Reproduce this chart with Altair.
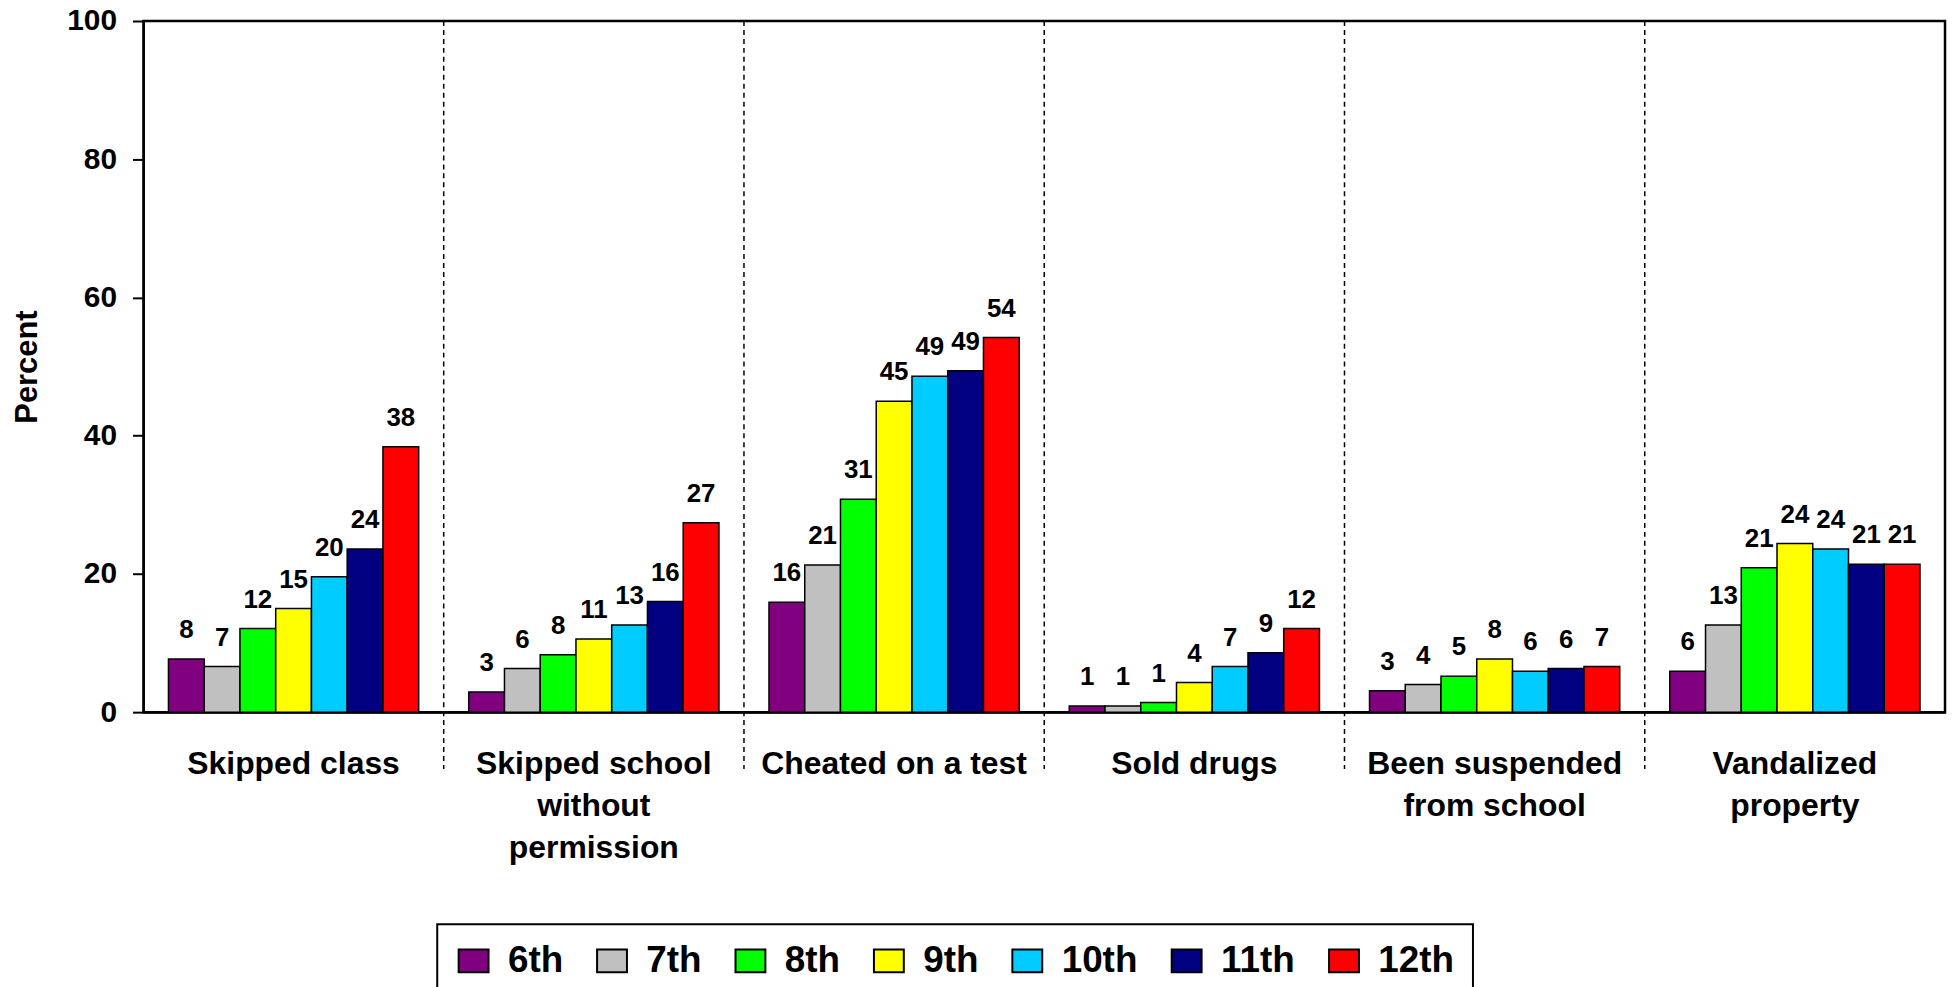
import altair as alt
import pandas as pd

# Categories (use "|" as the line-break marker for axis labels)
categories = [
    "Skipped class",
    "Skipped school|without|permission",
    "Cheated on a test",
    "Sold drugs",
    "Been suspended|from school",
    "Vandalized|property",
]
grades = ["6th", "7th", "8th", "9th", "10th", "11th", "12th"]
colors = ["#800080", "#C0C0C0", "#00FF00", "#FFFF00", "#00CCFF", "#000080", "#FF0000"]

# Percent values per grade, in category order
g6 = [7.7, 2.9, 15.9, 0.9, 3.1, 5.9]
g7 = [6.6, 6.3, 21.3, 0.9, 4.0, 12.6]
g8 = [12.1, 8.3, 30.8, 1.4, 5.2, 20.9]
g9 = [15.0, 10.6, 45.0, 4.3, 7.7, 24.4]
g10 = [19.6, 12.6, 48.6, 6.6, 5.9, 23.6]
g11 = [23.6, 16.0, 49.4, 8.6, 6.3, 21.4]
g12 = [38.4, 27.4, 54.2, 12.1, 6.6, 21.4]
series = [g6, g7, g8, g9, g10, g11, g12]

y_ticks = [0, 20, 40, 60, 80, 100]

rows = []
for g, vals in zip(grades, series):
    for c, v in zip(categories, vals):
        rows.append({"cat": c, "grade": g, "value": v})
df = pd.DataFrame(rows)
sep_df = pd.DataFrame({"cat": categories[1:]})

FONT = "Liberation Sans"

x_enc = alt.X(
    "cat:N",
    sort=categories,
    scale=alt.Scale(paddingInner=0, paddingOuter=0),
    axis=alt.Axis(
        title=None,
        ticks=False,
        tickSize=0,
        labelPadding=37,
        labelFontSize=32,
        labelFontWeight="bold",
        labelLineHeight=42,
        labelExpr="split(datum.label, '|')",
        labelAngle=0,
        labelColor="black",
        labelLimit=500,
        labelOverlap=False,
        domainColor="black",
        domainWidth=2,
        grid=False,
    ),
)
xoff_enc = alt.XOffset("grade:N", sort=grades, scale=alt.Scale(paddingInner=0, paddingOuter=0.7))
y_enc = alt.Y(
    "value:Q",
    scale=alt.Scale(domain=[0, 100], nice=False),
    axis=alt.Axis(
        values=y_ticks,
        title="Percent",
        grid=False,
        labelFontSize=30,
        labelFontWeight="bold",
        labelColor="black",
        labelPadding=16,
        tickSize=11,
        tickWidth=2,
        tickColor="black",
        domainColor="black",
        domainWidth=2,
        titleFontSize=31,
        titleFontWeight="bold",
        titleColor="black",
        titleAngle=270,
        titleX=-107,
        titleY=347,
        titleAlign="center",
        titleBaseline="alphabetic",
    ),
)

bars = alt.Chart(df).mark_bar(stroke="black", strokeWidth=1.5).encode(
    x=x_enc,
    xOffset=xoff_enc,
    y=y_enc,
    color=alt.Color(
        "grade:N",
        sort=grades,
        scale=alt.Scale(domain=grades, range=colors),
        legend=alt.Legend(
            title=None,
            orient="none",
            legendX=295,
            legendY=907,
            direction="horizontal",
            columns=7,
            symbolType="M-1,-0.767L1,-0.767L1,0.767L-1,0.767Z",
            symbolSize=900,
            symbolStrokeColor="black",
            symbolStrokeWidth=2,
            symbolOpacity=1,
            labelFontSize=37,
            labelFontWeight="bold",
            labelColor="black",
            labelLimit=300,
            labelOffset=16,
            columnPadding=29,
            padding=18,
            strokeColor="black",
            fillColor="white",
            cornerRadius=0,
        ),
    ),
)

labels = alt.Chart(df).mark_text(
    baseline="alphabetic", dy=-21, fontSize=26, fontWeight="bold", color="black", font=FONT
).encode(
    x=alt.X("cat:N", sort=categories),
    xOffset=alt.XOffset("grade:N", sort=grades),
    y=alt.Y("value:Q"),
    text=alt.Text("value:Q", format=".0f"),
)

seps = alt.Chart(sep_df).mark_rule(
    color="black", strokeWidth=1.5, strokeDash=[5, 4]
).encode(
    x=alt.X("cat:N", sort=categories, bandPosition=0),
    y=alt.value(0),
    y2=alt.value(751),
)

chart = (
    alt.layer(bars, seps, labels)
    .properties(
        width=1809,
        height=694,
        autosize=alt.AutoSizeParams(type="none"),
        padding={"left": 136, "top": 11, "right": 4, "bottom": 290},
        background="white",
    )
    .configure(font=FONT)
    .configure_view(stroke="black", strokeWidth=2.5)
    .configure_legend(strokeWidth=2)
)

chart.save("out.html", embed_options={"renderer": "svg", "actions": False})
